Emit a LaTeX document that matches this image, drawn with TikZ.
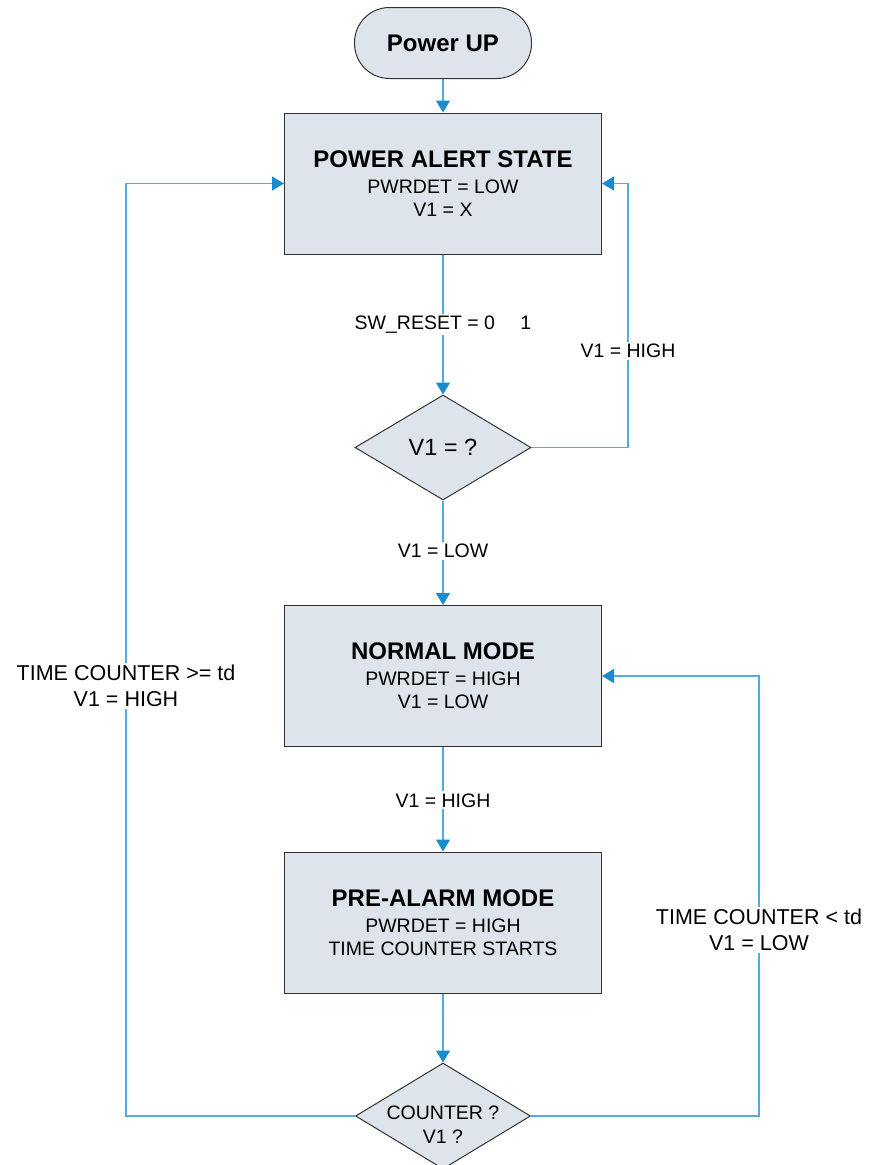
\documentclass[tikz,border=0pt]{standalone}
\usepackage{fontspec}
\setmainfont{Liberation Sans}
\usetikzlibrary{shapes.geometric,arrows.meta}
\definecolor{boxfill}{HTML}{DEE4EC}
\definecolor{boxline}{HTML}{333333}
\definecolor{linkblue}{HTML}{4FAEDF}
\definecolor{tipblue}{HTML}{1A8CCB}
\tikzset{
 statebox/.style={draw=boxline, fill=boxfill, line width=1pt, minimum width=317pt, minimum height=141pt, inner sep=0pt, align=center, font=\fontsize{19.5}{23}\selectfont},
 termbox/.style={draw=boxline, fill=boxfill, line width=1pt, rounded corners=35pt, minimum width=177pt, minimum height=71pt, inner sep=0pt, font=\bfseries\fontsize{24}{28}\selectfont},
 decbox/.style={draw=boxline, fill=boxfill, line width=1pt, diamond, inner sep=0pt, align=center},
 link/.style={draw=linkblue, line width=1.5pt, -{Triangle[length=12pt,width=14pt,color=tipblue]}},
 lab/.style={fill=white, inner sep=2pt, align=center, font=\fontsize{19.5}{23}\selectfont},
 biglab/.style={fill=white, inner sep=2pt, align=center, font=\fontsize{21.5}{26}\selectfont},
 dtext/.style={inner sep=0pt, align=center, font=\fontsize{19.5}{24}\selectfont},
}
\newcommand{\ttl}[1]{{\bfseries\fontsize{24}{28}\selectfont #1}}
\begin{document}
\begin{tikzpicture}[x=1pt,y=-1pt]
\path[use as bounding box] (0,0) rectangle (869,1165);
\node[termbox] (pu) at (443,43) {Power UP};
\node[statebox] (pas) at (443,183.5) {\ttl{POWER ALERT STATE}\\[3pt]PWRDET = LOW\\V1 = X};
\node[decbox, minimum width=176pt, minimum height=105pt, font=\fontsize{23.5}{28}\selectfont] (d1) at (443,447.5) {V1 = ?};
\node[statebox] (nm) at (443,676) {\ttl{NORMAL MODE}\\[3pt]PWRDET = HIGH\\V1 = LOW};
\node[statebox] (pa) at (443,922.5) {\ttl{PRE-ALARM MODE}\\[3pt]PWRDET = HIGH\\TIME COUNTER STARTS};
\node[decbox, minimum width=175pt, minimum height=106pt] (d2) at (443,1116) {};
\node[dtext] (d2t) at (443,1125) {COUNTER ?\\V1 ?};
\coordinate (r1) at (628,447.5);
\coordinate (r1t) at (628,183.5);
\coordinate (lb) at (126,1116);
\coordinate (lt) at (126,183.5);
\coordinate (rb) at (759,1116);
\coordinate (rt) at (759,676);
\draw[link] (pu) -- (pas);
\draw[link] (pas) -- node[lab, pos=0.5] (l1) {SW\_RESET = 0\hspace{1.3em}1} (d1);
\draw[link] (d1.east) -- (r1) -- node[lab, pos=0.366] (l2) {V1 = HIGH} (r1t) -- (pas.east);
\draw[link] (d1) -- node[lab, pos=0.48] (l3) {V1 = LOW} (nm);
\draw[link] (nm) -- node[lab, pos=0.51] (l4) {V1 = HIGH} (pa);
\draw[link] (pa) -- (d2);
\draw[link] (d2.west) -- (lb) -- node[biglab, pos=0.461] (l5) {TIME COUNTER >= td\\V1 = HIGH} (lt) -- (pas.west);
\draw[link] (d2.east) -- (rb) -- node[biglab, pos=0.423] (l6) {TIME COUNTER < td\\V1 = LOW} (rt) -- (nm.east);
\end{tikzpicture}
\end{document}
